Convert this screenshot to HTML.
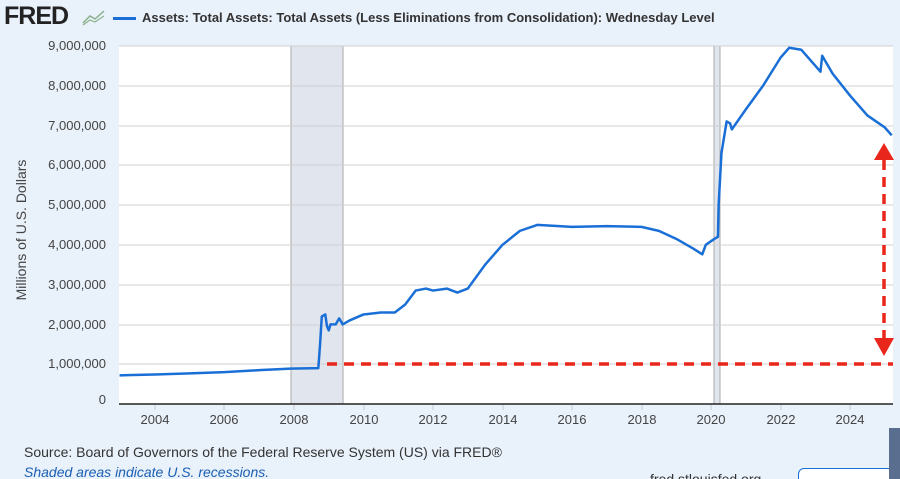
<!DOCTYPE html>
<html><head><style>
html,body{margin:0;width:900px;height:479px;overflow:hidden}
body{background:#e9f1fb;font-family:"Liberation Sans",sans-serif;position:relative}
.t{position:absolute;white-space:nowrap}
</style></head><body>
<div class="t" style="left:4px;top:2px;font-size:25px;font-weight:bold;color:#222;letter-spacing:-1px">FRED</div>
<svg class="t" style="left:82px;top:8px" width="24" height="18"><path d="M1 15 L8 8 L13 11 L22 3" stroke="#8ab08a" fill="none" stroke-width="1.5"/><path d="M1 17 L8 12 L13 14 L22 8" stroke="#8ab08a" fill="none" stroke-width="1.2"/></svg>
<div class="t" style="left:113px;top:17px;width:23px;height:3px;background:#1a6fd6"></div>
<div class="t" style="left:142px;top:10px;font-size:13px;font-weight:bold;color:#333">Assets: Total Assets: Total Assets (Less Eliminations from Consolidation): Wednesday Level</div>
<div class="t" style="left:-64px;top:222px;font-size:14px;color:#444;transform:rotate(-90deg);width:170px;text-align:center">Millions of U.S. Dollars</div>
<svg class="t" style="left:0;top:0" width="900" height="479">
<rect x="119" y="46" width="774" height="358" fill="#fff"/>
<rect x="291" y="46" width="52" height="358" fill="#e1e5ee"/>
<line x1="291" y1="46" x2="291" y2="404" stroke="#aaa"/><line x1="343" y1="46" x2="343" y2="404" stroke="#aaa"/>
<rect x="714" y="46" width="6" height="358" fill="#e1e5ee"/>
<line x1="714" y1="46" x2="714" y2="404" stroke="#aaa"/><line x1="720" y1="46" x2="720" y2="404" stroke="#aaa"/>
<g stroke="#d0d0d0" stroke-width="1">
<line x1="119" x2="893" y1="46" y2="46"/><line x1="119" x2="893" y1="86" y2="86"/><line x1="119" x2="893" y1="126" y2="126"/><line x1="119" x2="893" y1="165" y2="165"/><line x1="119" x2="893" y1="205" y2="205"/><line x1="119" x2="893" y1="245" y2="245"/><line x1="119" x2="893" y1="285" y2="285"/><line x1="119" x2="893" y1="325" y2="325"/><line x1="119" x2="893" y1="364" y2="364"/>
</g>
<g stroke="#ccc"><line x1="155" x2="155" y1="404" y2="410"/><line x1="224" x2="224" y1="404" y2="410"/><line x1="294" x2="294" y1="404" y2="410"/><line x1="364" x2="364" y1="404" y2="410"/><line x1="433" x2="433" y1="404" y2="410"/><line x1="503" x2="503" y1="404" y2="410"/><line x1="572" x2="572" y1="404" y2="410"/><line x1="642" x2="642" y1="404" y2="410"/><line x1="711" x2="711" y1="404" y2="410"/><line x1="781" x2="781" y1="404" y2="410"/><line x1="850" x2="850" y1="404" y2="410"/></g>
<line x1="119" x2="893" y1="404" y2="404" stroke="#222" stroke-width="1.5"/>
<g font-size="13" fill="#444" text-anchor="end">
<text x="106" y="50">9,000,000</text><text x="106" y="90">8,000,000</text><text x="106" y="130">7,000,000</text><text x="106" y="169">6,000,000</text><text x="106" y="209">5,000,000</text><text x="106" y="249">4,000,000</text><text x="106" y="289">3,000,000</text><text x="106" y="329">2,000,000</text><text x="106" y="368">1,000,000</text><text x="106" y="404">0</text>
</g>
<g font-size="13" fill="#444" text-anchor="middle">
<text x="155" y="424">2004</text><text x="224" y="424">2006</text><text x="294" y="424">2008</text><text x="364" y="424">2010</text><text x="433" y="424">2012</text><text x="503" y="424">2014</text><text x="572" y="424">2016</text><text x="642" y="424">2018</text><text x="711" y="424">2020</text><text x="781" y="424">2022</text><text x="850" y="424">2024</text>
</g>
<g transform="translate(155,404) scale(34.75,-39.8)">
<polyline fill="none" stroke="#1a6fd6" stroke-width="2.5" vector-effect="non-scaling-stroke" stroke-linejoin="round" points="-1.02,0.72 0,0.74 1,0.77 2,0.8 3,0.85 3.9,0.89 4.7,0.9 4.75,1.5 4.8,2.2 4.9,2.25 4.95,1.95 5.0,1.85 5.05,2.0 5.2,2.0 5.3,2.15 5.4,2.0 5.6,2.1 6,2.25 6.5,2.3 6.9,2.3 7.2,2.5 7.5,2.85 7.8,2.9 8,2.85 8.4,2.9 8.7,2.8 9,2.9 9.5,3.5 10,4.0 10.5,4.35 11,4.5 12,4.45 13,4.47 14,4.45 14.5,4.35 15,4.15 15.5,3.9 15.75,3.76 15.85,4.0 16.1,4.15 16.2,4.2 16.22,5.0 16.3,6.3 16.45,7.1 16.55,7.05 16.6,6.9 17,7.4 17.5,8.0 18,8.7 18.25,8.95 18.6,8.9 19,8.5 19.15,8.35 19.2,8.75 19.5,8.3 20,7.75 20.5,7.25 21,6.95 21.2,6.75"/>
</g>
<line x1="327" x2="893" y1="364" y2="364" stroke="#e8261c" stroke-width="3.5" stroke-dasharray="10,7"/>
<line x1="884" x2="884" y1="160" y2="340" stroke="#e8261c" stroke-width="3.5" stroke-dasharray="10,7"/>
<polygon points="874,160 894,160 884,143" fill="#e8261c"/>
<polygon points="874,338 894,338 884,356" fill="#e8261c"/>
</svg>
<div class="t" style="left:24px;top:444px;font-size:14px;color:#333">Source: Board of Governors of the Federal Reserve System (US) via FRED®</div>
<div class="t" style="left:24px;top:464px;font-size:14px;font-style:italic;color:#1a5fb4">Shaded areas indicate U.S. recessions.</div>
<div class="t" style="left:650px;top:471px;font-size:14px;color:#333">fred.stlouisfed.org</div>
<div class="t" style="left:798px;top:468px;width:95px;height:20px;border:1px solid #1a6fd6;border-radius:6px;background:#fff"></div>
<div class="t" style="left:889px;top:428px;width:11px;height:51px;background:#5a6f8f"></div>
</body></html>
